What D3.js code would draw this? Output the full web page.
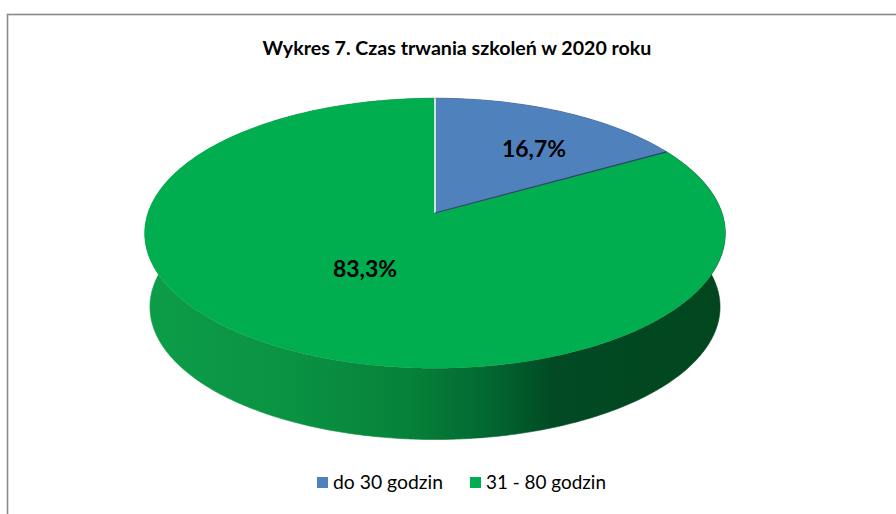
<!DOCTYPE html>
<html>
<head>
<meta charset="utf-8">
<script src="https://cdn.jsdelivr.net/npm/d3@7"></script>
<style>
  html, body { margin: 0; padding: 0; background: #fff; }
  svg { display: block; }
</style>
</head>
<body>
<svg id="chart" width="896" height="514"></svg>
<script>
// Training duration in 2020, share of trainings per duration bucket
const categories = ["do 30 godzin", "31 - 80 godzin"];
const shares = [16.7, 83.3];
const labels = ["16,7%", "83,3%"];
const colors = ["#4F81BD", "#00AE4F"];
const title = "Wykres 7. Czas trwania szkoleń w 2020 roku";

const svg = d3.select("#chart");
const font = "Lato, 'Open Sans', sans-serif";

// Scale a text's font size so that it spans the given width
function fitWidth(sel, width) {
  const node = sel.node();
  const fs = parseFloat(sel.attr("font-size"));
  const w = node.getComputedTextLength();
  if (w > 0) sel.attr("font-size", (fs * width / w).toFixed(2));
  return sel;
}

// Chart frame
svg.append("rect")
  .attr("x", 7.5).attr("y", 14.5)
  .attr("width", 900).attr("height", 520)
  .attr("fill", "#fff")
  .attr("stroke", "#8a8a8a").attr("stroke-width", 1.6);

// Title
fitWidth(svg.append("text")
  .attr("x", 457).attr("y", 55)
  .attr("text-anchor", "middle")
  .attr("font-family", font).attr("font-weight", 700)
  .attr("font-size", 17)
  .attr("fill", "#000")
  .text(title), 389);

// Perspective projection of a tilted disk: x to the right, z toward the viewer
const P = { cx: 435, cy: 213, A: 287, B: 132, q: 0.15, h: 74, s: 0.982 };
function project(x, z, bottom) {
  const k = 1 - P.q * z;
  const sc = bottom ? P.s : 1;
  return [P.cx + P.A * sc * x / k, P.cy + (bottom ? P.h : 0) + P.B * sc * z / k];
}
const rim = (a, bottom) => project(Math.sin(a), -Math.cos(a), bottom);

const pie = d3.pie().sort(null).value(d => d)(shares);

const defs = svg.append("defs");
const sideGrad = defs.append("linearGradient")
  .attr("id", "sideGreen")
  .attr("gradientUnits", "userSpaceOnUse")
  .attr("x1", 145).attr("x2", 728).attr("y1", 0).attr("y2", 0);
[[0, "#0d9d49"], [0.25, "#0a9243"], [0.45, "#06823a"], [0.6, "#026530"],
 [0.7, "#014a23"], [1, "#01461f"]].forEach(([o, c]) =>
  sideGrad.append("stop").attr("offset", o).attr("stop-color", c));

const sideFill = ["#2d4f7a", "url(#sideGreen)"];
const line = d3.line();

function arcPoints(a0, a1, bottom) {
  const n = Math.max(8, Math.ceil((a1 - a0) / 0.01));
  return d3.range(n + 1).map(i => rim(a0 + (a1 - a0) * i / n, bottom));
}

// Outer wall of every slice, drawn first so the top faces cover the hidden part
const sides = svg.append("g");
pie.forEach((d, i) => {
  const top = arcPoints(d.startAngle, d.endAngle, false);
  const bot = arcPoints(d.startAngle, d.endAngle, true);
  sides.append("path")
    .attr("d", line(top.concat(bot.reverse())) + "Z")
    .attr("fill", sideFill[i])
    .attr("stroke", sideFill[i]).attr("stroke-width", 0.6);
});

// Top faces
const apex = project(0, 0, false);
const tops = svg.append("g");
pie.forEach((d, i) => {
  const pts = [apex].concat(arcPoints(d.startAngle, d.endAngle, false));
  tops.append("path")
    .attr("d", line(pts) + "Z")
    .attr("fill", colors[i]);
});

// Slice seams: light edge along the 12 o'clock cut, shaded edge along the other
svg.append("path")
  .attr("d", line([apex, rim(0, false)]))
  .attr("stroke", "#f4f8f4").attr("stroke-width", 1.6);
svg.append("path")
  .attr("d", line([apex, rim(pie[0].endAngle, false)]))
  .attr("stroke", "#2f4566").attr("stroke-width", 1.2);

// Data labels
const labelPos = [[534, 157], [365, 277]];
pie.forEach((d, i) => {
  fitWidth(svg.append("text")
    .attr("x", labelPos[i][0]).attr("y", labelPos[i][1])
    .attr("text-anchor", "middle")
    .attr("font-family", font).attr("font-weight", 700)
    .attr("font-size", 23.5)
    .attr("fill", "#000")
    .text(labels[i]), 64);
});

// Legend
const legend = svg.append("g");
const legendX = [317, 470];
const legendW = [110, 120];
categories.forEach((c, i) => {
  legend.append("rect")
    .attr("x", legendX[i]).attr("y", 477)
    .attr("width", 11).attr("height", 11)
    .attr("fill", colors[i]);
  fitWidth(legend.append("text")
    .attr("x", legendX[i] + 16).attr("y", 489)
    .attr("font-family", font)
    .attr("font-size", 16)
    .attr("fill", "#000")
    .text(c), legendW[i]);
});
</script>
</body>
</html>
